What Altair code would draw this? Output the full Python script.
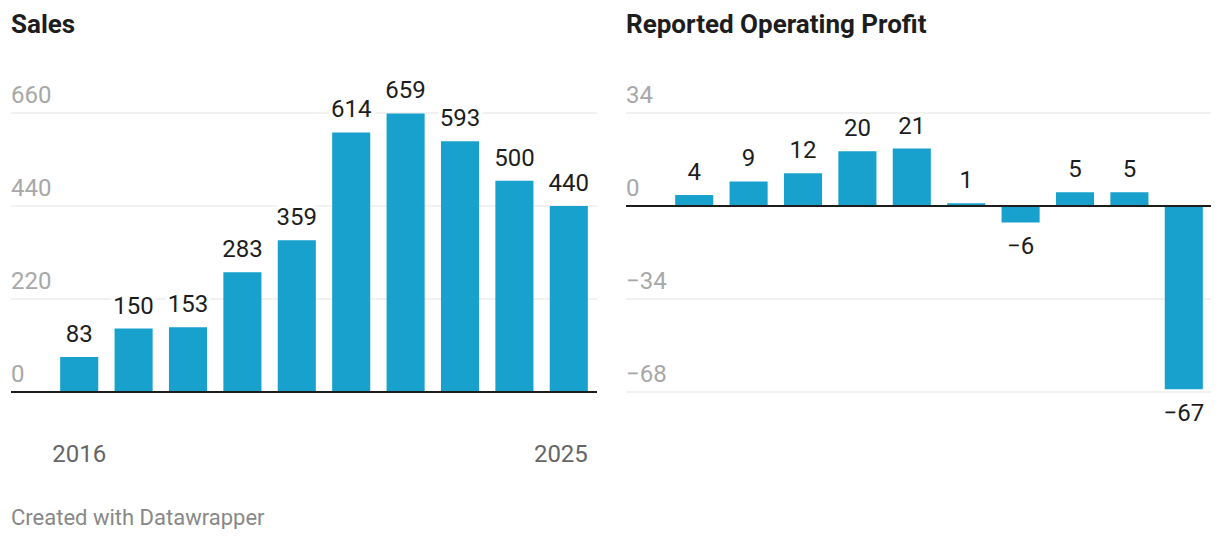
import altair as alt
import pandas as pd

years = ["2016", "2017", "2018", "2019", "2020", "2021", "2022", "2023", "2024", "2025"]
sales = [83, 150, 153, 283, 359, 614, 659, 593, 500, 440]
profit = [4, 9, 12, 20, 21, 1, -6, 5, 5, -67]
sales_ticks = [0, 220, 440, 660]
profit_ticks = [34, 0, -34, -68]
x_first_label = "2016"
x_last_label = "2025"
titles = ["Sales", "Reported Operating Profit"]
footer = "Created with Datawrapper"

BAR = "#18a1cd"
FONT = "Roboto"
H = 279


def fmt(v):
    return str(v) if v >= 0 else "\u2212" + str(-v)


def panel(values, ticks, domain, title, width, show_x, footer_text=None):
    df = pd.DataFrame({"year": years, "v": values, "label": [fmt(v) for v in values]})
    tdf = pd.DataFrame({"t": ticks, "label": [fmt(t) for t in ticks]})
    xs = alt.Scale(range=[41, 585], paddingInner=0.3, paddingOuter=0.15)
    ys = alt.Scale(domain=domain, nice=False, zero=False)
    X = alt.X("year:O", scale=xs, axis=None)

    grid = alt.Chart(tdf).transform_filter("datum.t != 0").mark_rule(
        color="#e3e3e3", strokeWidth=1
    ).encode(y=alt.Y("t:Q", scale=ys, axis=None), x=alt.value(0), x2=alt.value(width))

    ticklab = alt.Chart(tdf).mark_text(
        align="left", baseline="alphabetic", dy=-10, font=FONT, fontSize=24, color="#a8a8a8"
    ).encode(y=alt.Y("t:Q", scale=ys, axis=None), x=alt.value(0), text="label:N")

    bars = alt.Chart(df).mark_bar(color=BAR).encode(
        x=X, y=alt.Y("v:Q", scale=ys, axis=None), y2=alt.datum(0)
    )

    base0 = alt.Chart(pd.DataFrame({"t": [0]})).mark_rule(
        color="#1d1d1d", strokeWidth=2
    ).encode(y=alt.Y("t:Q", scale=ys, axis=None), x=alt.value(0), x2=alt.value(width))

    layers = [grid, ticklab, bars, base0]

    for cond, dy in [("datum.v >= 0", -15), ("datum.v < 0", 32)]:
        halo = alt.Chart(df).transform_filter(cond).mark_text(
            dy=dy, baseline="alphabetic", font=FONT, fontSize=24, color="white",
            stroke="white", strokeWidth=8, strokeJoin="round"
        ).encode(x=X, y=alt.Y("v:Q", scale=ys, axis=None), text="label:N")
        txt = alt.Chart(df).transform_filter(cond).mark_text(
            dy=dy, baseline="alphabetic", font=FONT, fontSize=24, color="#1d1d1d"
        ).encode(x=X, y=alt.Y("v:Q", scale=ys, axis=None), text="label:N")
        layers += [halo, txt]

    ttl = alt.Chart(pd.DataFrame({"t": [title]})).mark_text(
        align="left", baseline="alphabetic", font=FONT, fontSize=26, fontWeight="bold",
        color="#1d1d1d"
    ).encode(x=alt.value(0), y=alt.value(-80), text="t:N")
    layers.append(ttl)

    if show_x:
        xl1 = alt.Chart(df).transform_filter(
            alt.FieldEqualPredicate(field="year", equal=x_first_label)
        ).mark_text(baseline="alphabetic", font=FONT, fontSize=24, color="#666666").encode(
            x=X, y=alt.value(349), text="year:N"
        )
        xl2 = alt.Chart(df).transform_filter(
            alt.FieldEqualPredicate(field="year", equal=x_last_label)
        ).mark_text(baseline="alphabetic", align="right", font=FONT, fontSize=24,
                    color="#666666").encode(
            x=alt.X("year:O", scale=xs, axis=None, bandPosition=1), y=alt.value(349),
            text="year:N"
        )
        layers += [xl1, xl2]

    if footer_text:
        ft = alt.Chart(pd.DataFrame({"t": [footer_text]})).mark_text(
            align="left", baseline="alphabetic", font=FONT, fontSize=22, color="#888888"
        ).encode(x=alt.value(0), y=alt.value(412), text="t:N")
        layers.append(ft)

    return alt.layer(*layers).properties(width=width, height=H)


left = panel(sales, sales_ticks, [0, 660], titles[0], 586, True, footer)
right = panel(profit, profit_ticks, [-68, 34], titles[1], 585, False)

chart = alt.hconcat(left, right, spacing=29, bounds="flush").configure_view(
    stroke=None
).properties(padding={"left": 2, "top": 4, "right": 0, "bottom": 0})

chart.save("out.html", embed_options={"renderer": "svg", "actions": False})
